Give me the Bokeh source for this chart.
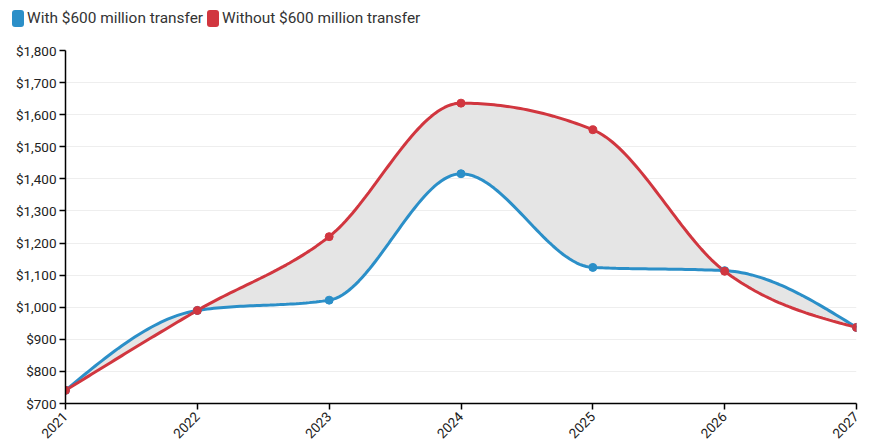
import numpy as np
from bokeh.plotting import figure
from bokeh.layouts import column
from bokeh.models import NumeralTickFormatter, FixedTicker, Range1d, Div
from bokeh.embed import file_html
from bokeh.resources import INLINE

years = [2021, 2022, 2023, 2024, 2025, 2026, 2027]
with_transfer = [741, 990, 1022, 1416, 1124, 1114, 937]
without_transfer = [741, 990, 1220, 1636, 1553, 1112, 937]
y_ticks = [700, 800, 900, 1000, 1100, 1200, 1300, 1400, 1500, 1600, 1700, 1800]
series_names = ["With $600 million transfer", "Without $600 million transfer"]

BLUE = "#2b8fc8"
RED = "#d1363f"
FONT = "Roboto"
W = 864
LEG_H = 38


def monotone_curve(xs, ys, n=40):
    xs = np.asarray(xs, float)
    ys = np.asarray(ys, float)
    m = len(xs)
    t = np.zeros(m)
    for i in range(1, m - 1):
        h0 = xs[i] - xs[i - 1]
        h1 = xs[i + 1] - xs[i]
        s0 = (ys[i] - ys[i - 1]) / h0
        s1 = (ys[i + 1] - ys[i]) / h1
        p = (s0 * h1 + s1 * h0) / (h0 + h1)
        t[i] = (np.sign(s0) + np.sign(s1)) * min(abs(s0), abs(s1), 0.5 * abs(p))
    h = xs[1] - xs[0]
    t[0] = (3 * (ys[1] - ys[0]) / h - t[1]) / 2
    h = xs[-1] - xs[-2]
    t[-1] = (3 * (ys[-1] - ys[-2]) / h - t[-2]) / 2
    X, Y = [], []
    for i in range(m - 1):
        dx = xs[i + 1] - xs[i]
        y0, y3 = ys[i], ys[i + 1]
        y1 = y0 + dx * t[i] / 3
        y2 = y3 - dx * t[i + 1] / 3
        u = np.linspace(0, 1, n, endpoint=(i == m - 2))
        X.extend(xs[i] + u * dx)
        Y.extend((1 - u) ** 3 * y0 + 3 * (1 - u) ** 2 * u * y1 + 3 * (1 - u) * u ** 2 * y2 + u ** 3 * y3)
    return [float(v) for v in X], [float(v) for v in Y]


bx, by = monotone_curve(years, with_transfer)
rx, ry = monotone_curve(years, without_transfer)

# ---- legend strip (HTML text) ----
def swatch(color):
    return (f'<span style="display:inline-block;width:12px;height:17px;background:{color};'
            f'border-radius:3px;margin-right:3px;vertical-align:middle"></span>')

legend_html = (
    f'<div style="font-family:{FONT};font-size:15.4px;color:#333333;padding:10px 0 0 12px;'
    f'white-space:nowrap;line-height:17px">'
    f'{swatch(BLUE)}<span style="vertical-align:middle">{series_names[0]}</span>'
    f'<span style="display:inline-block;width:4px"></span>'
    f'{swatch(RED)}<span style="vertical-align:middle">{series_names[1]}</span>'
    f'</div>'
)
legend_div = Div(text=legend_html, width=W, height=LEG_H, margin=(0, 0, 0, 0))

# ---- main chart ----
p = figure(width=W, height=445 - LEG_H, output_backend="svg", toolbar_location=None,
           x_range=Range1d(2021, 2027), y_range=Range1d(700, 1800),
           min_border_left=65, min_border_right=W - 856, min_border_bottom=41,
           min_border_top=12)
p.outline_line_color = None
p.background_fill_color = "white"

p.varea(x=bx, y1=by, y2=ry, fill_color="#e5e5e5", fill_alpha=1.0)
p.line(bx, by, line_color=BLUE, line_width=3)
p.line(rx, ry, line_color=RED, line_width=3)
p.scatter(years, with_transfer, size=8, fill_color=BLUE, line_color=BLUE)
p.scatter(years, without_transfer, size=8, fill_color=RED, line_color=RED)

p.xaxis.ticker = FixedTicker(ticks=years)
p.xaxis.major_label_orientation = np.pi / 4
p.yaxis.ticker = FixedTicker(ticks=y_ticks)
p.yaxis.formatter = NumeralTickFormatter(format="$0,0")
for ax in (p.xaxis, p.yaxis):
    ax.axis_line_color = "black"
    ax.axis_line_width = 1.5
    ax.major_tick_line_color = "black"
    ax.major_tick_line_width = 1.5
    ax.major_tick_out = 6
    ax.major_tick_in = 0
    ax.minor_tick_line_color = None
    ax.major_label_text_font = FONT
    ax.major_label_text_font_size = "13.5px"
    ax.major_label_text_color = "#222222"
p.yaxis.major_label_standoff = 3
p.xaxis.major_label_standoff = 5
p.xgrid.grid_line_color = None
p.ygrid.grid_line_color = "#eeeeee"
p.ygrid.grid_line_width = 1

layout = column(legend_div, p, spacing=0)
open("out.html", "w").write(file_html(layout, INLINE))
